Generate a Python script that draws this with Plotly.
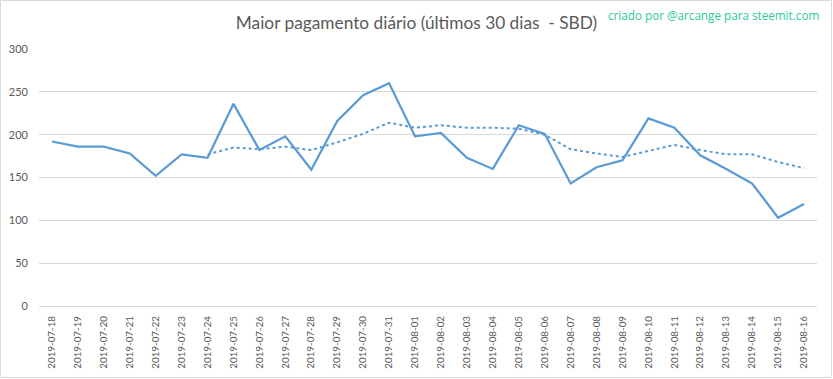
import plotly.graph_objects as go

dates = ["2019-07-18","2019-07-19","2019-07-20","2019-07-21","2019-07-22","2019-07-23","2019-07-24",
         "2019-07-25","2019-07-26","2019-07-27","2019-07-28","2019-07-29","2019-07-30","2019-07-31",
         "2019-08-01","2019-08-02","2019-08-03","2019-08-04","2019-08-05","2019-08-06","2019-08-07",
         "2019-08-08","2019-08-09","2019-08-10","2019-08-11","2019-08-12","2019-08-13","2019-08-14",
         "2019-08-15","2019-08-16"]
max_payout = [192, 186, 186, 178, 152, 177, 173, 236, 182, 198, 159, 216, 246, 260,
              198, 202, 173, 160, 211, 201, 143, 162, 170, 219, 208, 176, 160, 143, 103, 119]
trend_dates = dates[6:]
trend_values = [177, 185, 183, 186, 182, 191, 201, 214, 208, 211, 208, 208, 207, 200,
                183, 178, 174, 181, 188, 182, 177, 177, 168, 161]
y_ticks = [0, 50, 100, 150, 200, 250, 300]

W, H = 833, 379
L, R, T, B = 39, 16, 49, 73
pw, ph = W - L - R, H - T - B

fig = go.Figure()
fig.add_trace(go.Scatter(x=dates, y=max_payout, mode="lines",
                         line=dict(color="#5B9BD5", width=2.25), showlegend=False))
fig.add_trace(go.Scatter(x=trend_dates, y=trend_values, mode="lines",
                         line=dict(color="#5B9BD5", width=2, dash="dot"), showlegend=False))

fig.update_layout(
    width=W, height=H,
    margin=dict(l=L, r=R, t=T, b=B, autoexpand=False),
    paper_bgcolor="white", plot_bgcolor="white",
    font=dict(family="Lato, 'Open Sans', sans-serif", color="#595959"),
    title=dict(text="Maior pagamento diário (últimos 30 dias  - SBD)",
               x=0.5, xref="container", xanchor="center",
               y=1 - 23 / H, yref="container", yanchor="middle",
               font=dict(size=17.3, color="#595959", family="Lato, sans-serif")),
    xaxis=dict(type="category", range=[-0.5, len(dates) - 0.5], tickangle=-90,
               showgrid=False, showline=False, zeroline=False, ticks="", automargin=False,
               tickfont=dict(size=9.8, color="#595959", family="Lato, sans-serif"),
               ticklabelstandoff=7),
    yaxis=dict(range=[0, 300], tickvals=y_ticks, showgrid=True, gridcolor="#D9D9D9", gridwidth=1,
               zeroline=True, zerolinecolor="#D9D9D9", zerolinewidth=1, showline=False, ticks="",
               automargin=False,
               tickfont=dict(size=11, color="#595959", family="Lato, sans-serif"),
               ticklabelstandoff=10),
    shapes=[dict(type="rect", xref="paper", yref="paper",
                 x0=(0.5 - L) / pw, x1=(W - 1.5 - L) / pw,
                 y0=(T + ph - (H - 1.5)) / ph, y1=(T + ph - 0.5) / ph,
                 line=dict(color="#D9D9D9", width=1), fillcolor="rgba(0,0,0,0)", layer="above")],
    annotations=[dict(text="criado por @arcange para steemit.com", xref="paper", yref="paper",
                      x=(821 - L) / pw, y=(T + ph - 15) / ph, xanchor="right", yanchor="middle",
                      showarrow=False,
                      font=dict(size=11.7, color="#2CC9A0", family="'Open Sans', sans-serif"))],
)

fig.write_html("out.html", config={"displayModeBar": False},
               post_script="document.body.style.margin='0';document.body.style.padding='0';")
